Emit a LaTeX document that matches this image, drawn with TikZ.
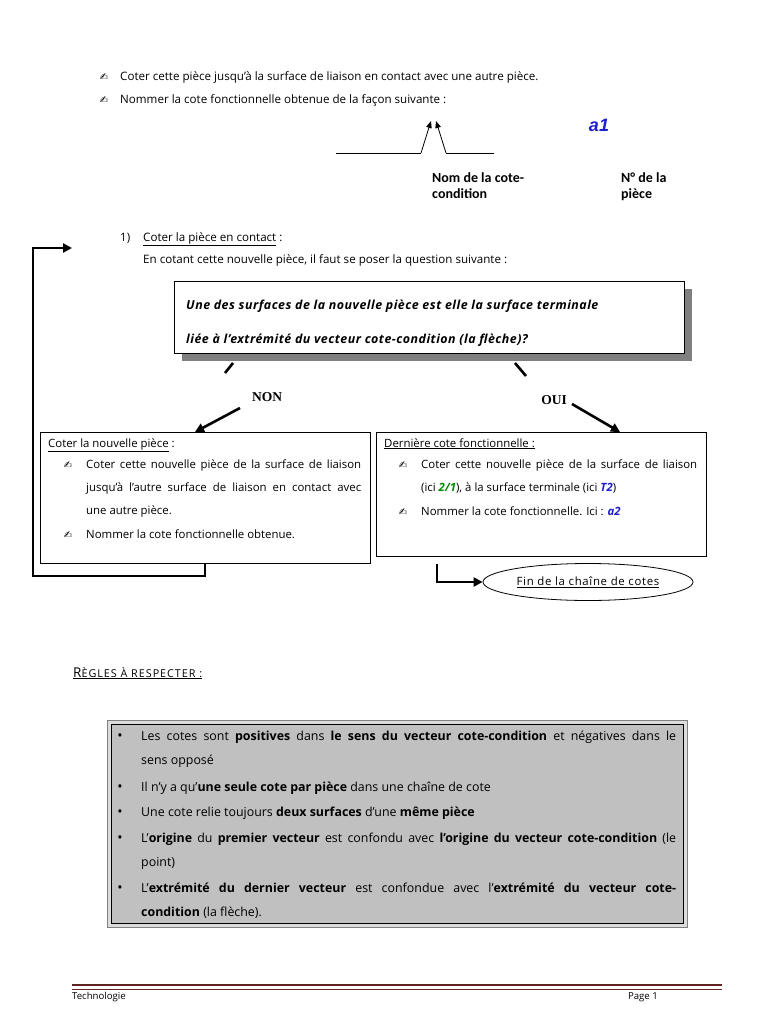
\documentclass[tikz,border=0pt]{standalone}
\usepackage{fontspec}
\setmainfont{Open Sans}
\newfontfamily\penfont{DejaVu Sans}
\newfontfamily\califont{Carlito}
\newfontfamily\timesfont{Liberation Serif}
\newfontfamily\arialfont{Liberation Sans}
\usetikzlibrary{arrows.meta, positioning, shapes.geometric, calc}
\definecolor{cotblue}{HTML}{1F1FCC}
\definecolor{cotgreen}{HTML}{008A00}
\definecolor{shadowgray}{HTML}{808080}
\definecolor{rulegray}{HTML}{C0C0C0}
\definecolor{rulelight}{HTML}{DCDCDC}
\definecolor{footred}{HTML}{622423}

\newcommand{\bodysize}{\fontsize{11.6}{13}\selectfont}
\newcommand{\boxsize}{\fontsize{11.4}{13}\selectfont}
\newcommand{\rulesize}{\fontsize{12.4}{14}\selectfont}
\newcommand{\jline}[2]{\makebox[#1][s]{#2}}
\newcommand{\cotb}[2]{\textcolor{#1}{\bfseries\itshape #2}}

\begin{document}
\begin{tikzpicture}[
      x=1pt, y=-1pt,
      txt/.style={anchor=base west, inner sep=0pt, font=\bodysize},
      btxt/.style={anchor=base west, inner sep=0pt, font=\boxsize},
      rtxt/.style={anchor=base west, inner sep=0pt, font=\rulesize},
      penmark/.style={inner sep=0pt, font=\penfont\fontsize{10}{10}\selectfont},
      qtxt/.style={anchor=base west, inner sep=0pt,
                   font=\fontsize{12.4}{14}\selectfont\bfseries\itshape\addfontfeature{LetterSpace=4}},
      label/.style={anchor=north west, inner sep=0pt, align=left,
                    font=\califont\bfseries\fontsize{14}{16.5}\selectfont},
      answer/.style={inner sep=1pt, font=\timesfont\bfseries\fontsize{13.5}{14}\selectfont},
      box/.style={draw, line width=0.9pt, anchor=north west, inner sep=0pt},
      bigarr/.style={-{Triangle[length=9pt, width=9pt]}, line width=2.6pt},
      smallarr/.style={-{Triangle[length=7pt, width=5.5pt]}, line width=0.8pt},
      dot/.style={anchor=base, inner sep=0pt, font=\fontsize{14}{14}\selectfont},
    ]
    \useasboundingbox (0,0) rectangle (768,1024);
    \fill[white] (0,0) rectangle (768,1024);

    % Top instructions
    \node[penmark] (p1) at (104,77) {✍};
    \node[txt] (t1) at (120,81)
      {Coter cette pièce jusqu'à la surface de liaison en contact avec une autre pièce.};
    \node[penmark] (p2) at (104,100) {✍};
    \node[txt] (t2) at (120,104)
      {Nommer la cote fonctionnelle obtenue de la façon suivante :};

    % Name of the functional dimension
    \coordinate (s1) at (336,153);
    \coordinate (s2) at (421,153);
    \coordinate (s3) at (431,121);
    \coordinate (s4) at (436,121);
    \coordinate (s5) at (446,153);
    \coordinate (s6) at (494,153);
    \draw[line width=0.8pt] (s1) -- (s2);
    \draw[smallarr] (s2) -- (s3);
    \draw[smallarr] (s5) -- (s4);
    \draw[line width=0.8pt] (s5) -- (s6);
    \node[font=\arialfont\bfseries\itshape\fontsize{18}{18}\selectfont,
          text=cotblue] (a1) at (599,125) {a1};
    \node[label] (nom) at (432,172) {Nom de la cote-\\condition};
    \node[label] (num) at (621,172) {N° de la\\pièce};

    % Step 1
    \node[txt] (n1) at (120,241) {1)};
    \node[txt] (h1) at (143,241) {\underline{Coter la pièce en contact} :};
    \node[txt] (h2) at (143,263)
      {En cotant cette nouvelle pièce, il faut se poser la question suivante :};

    % Question box with its shadow
    \fill[shadowgray] (182,289) rectangle (692,361);
    \node[box, fill=white, line width=1.1pt, minimum width=510pt,
          minimum height=72pt] (qbox) at (174,281) {};
    \node[qtxt] (q1) at (186,309)
      {Une des surfaces de la nouvelle pièce est elle la surface terminale};
    \node[qtxt] (q2) at (186,343)
      {liée à l'extrémité du vecteur cote-condition (la flèche)?};

    % Answers
    \coordinate (na) at (233,363);
    \coordinate (nb) at (225,373);
    \draw[line width=2.6pt] (na) -- (nb);
    \node[answer] (non) at (267,397) {NON};
    \coordinate (nc) at (240,408);
    \coordinate (oa) at (515,363);
    \coordinate (ob) at (526,376);
    \draw[line width=2.6pt] (oa) -- (ob);
    \node[answer] (oui) at (554,400) {OUI};
    \coordinate (oc) at (572,404);

    % Left box: not the last piece
    \node[box, minimum width=330pt, minimum height=131pt] (gauche) at (40,432) {};
    \node[btxt] (g0) at (48,447) {\underline{Coter la nouvelle pièce} :};
    \node[penmark] (gp1) at (68,465) {✍};
    \node[btxt] (g1) at (86,468)
      {\jline{275pt}{Coter cette nouvelle pièce de la surface de liaison}};
    \node[btxt] (g2) at (86,491)
      {\jline{275pt}{jusqu'à l'autre surface de liaison en contact avec}};
    \node[btxt] (g3) at (86,514) {une autre pièce.};
    \node[penmark] (gp2) at (68,535) {✍};
    \node[btxt] (g4) at (86,538) {Nommer la cote fonctionnelle obtenue.};

    % Right box: last functional dimension
    \node[box, minimum width=330pt, minimum height=124pt] (droite) at (376,432) {};
    \node[btxt] (d0) at (384,447) {\underline{Dernière cote fonctionnelle :}};
    \node[penmark] (dp1) at (403,465) {✍};
    \node[btxt] (d1) at (421,468)
      {\jline{276pt}{Coter cette nouvelle pièce de la surface de liaison}};
    \node[btxt] (d2) at (421,491)
      {(ici \cotb{cotgreen}{2/1}), à la surface terminale (ici \cotb{cotblue}{T2})};
    \node[penmark] (dp2) at (403,512) {✍};
    \node[btxt] (d3) at (421,515)
      {Nommer la cote fonctionnelle. Ici : \cotb{cotblue}{a2}};

    % End of the chain
    \node[draw, ellipse, line width=0.8pt, minimum width=210pt, minimum height=37pt,
          inner sep=0pt, font=\boxsize\addfontfeature{LetterSpace=6}]
      (fin) at (588,582) {\underline{Fin de la chaîne de cotes}};

    % Arrows
    \draw[bigarr] (nc) -- ($(gauche.north west)+(155,0)$);
    \draw[bigarr] (oc) -- ($(droite.north west)+(244,0)$);
    \coordinate (loop) at ($(gauche.south west)+(165,0)$);
    \coordinate (back) at (72,248);
    \draw[bigarr] (loop) -- ++(0,12) -| (33,248) -- (back);
    \coordinate (dfin) at ($(droite.south west)+(61,7)$);
    \draw[bigarr] (dfin) |- (fin.west);

    % Rules
    \node[txt] (regles) at (73,677)
      {\underline{{\fontsize{13.5}{14}\selectfont R}{\fontsize{10.8}{12}\selectfont\addfontfeature{LetterSpace=9}ÈGLES À RESPECTER :}}};
    \node[draw=gray, fill=rulelight, line width=0.6pt, anchor=north west,
          minimum width=580pt, minimum height=207pt, inner sep=0pt]
      (cadre) at (107,720) {};
    \node[draw, fill=rulegray, line width=1.6pt, minimum width=572pt,
          minimum height=199pt, inner sep=0pt] (regbox) at (cadre.center) {};
    \foreach \y in {740,791,816,842,892} {
      \node[dot] at (120,\y) {•};
    }
    \node[rtxt] (r1) at (141,740)
      {\jline{535pt}{Les cotes sont \textbf{positives} dans \textbf{le sens du vecteur cote-condition} et négatives dans le}};
    \node[rtxt] (r2) at (141,764) {sens opposé};
    \node[rtxt] (r3) at (141,791)
      {Il n'y a qu'\textbf{une seule cote par pièce} dans une chaîne de cote};
    \node[rtxt] (r4) at (141,816)
      {Une cote relie toujours \textbf{deux surfaces} d'une \textbf{même pièce}};
    \node[rtxt] (r5) at (141,842)
      {\jline{535pt}{L'\textbf{origine} du \textbf{premier vecteur} est confondu avec \textbf{l'origine du vecteur cote-condition} (le}};
    \node[rtxt] (r6) at (141,866) {point)};
    \node[rtxt] (r7) at (141,892)
      {\jline{535pt}{L'\textbf{extrémité du dernier vecteur} est confondue avec l'\textbf{extrémité du vecteur cote-}}};
    \node[rtxt] (r8) at (141,916) {\textbf{condition} (la flèche).};

    % Footer
    \coordinate (fl) at (72,985);
    \coordinate (fr) at (722,985);
    \draw[footred, line width=2.6pt] (fl) -- (fr);
    \draw[footred, line width=0.8pt] ($(fl)+(0,4.5)$) -- ($(fr)+(0,4.5)$);
    \node[txt, font=\fontsize{9.6}{11}\selectfont] (tech) at (72,999) {Technologie};
    \node[txt, anchor=base east, font=\fontsize{9.6}{11}\selectfont] (page) at (658,999) {Page 1};
  \end{tikzpicture}
\end{document}
